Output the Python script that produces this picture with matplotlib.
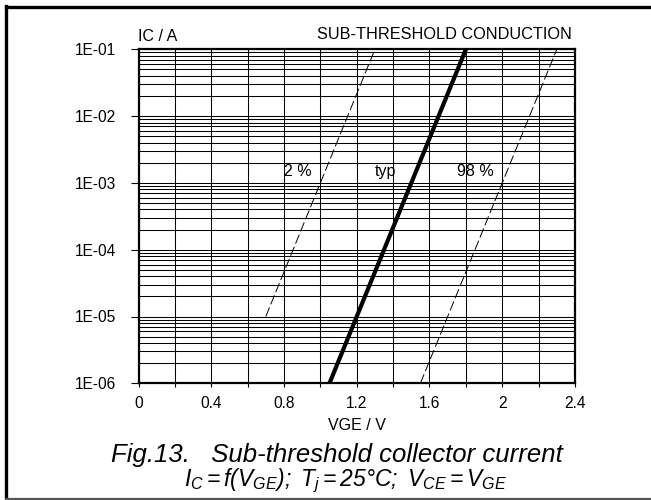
import matplotlib
matplotlib.use("Agg")
import matplotlib.pyplot as plt
from matplotlib.lines import Line2D
import numpy as np

plt.rcParams['font.family'] = ['Liberation Sans', 'DejaVu Sans']
plt.rcParams['mathtext.fontset'] = 'custom'
plt.rcParams['mathtext.rm'] = 'Liberation Sans:italic'
plt.rcParams['mathtext.it'] = 'Liberation Sans:italic'
plt.rcParams['mathtext.bf'] = 'Liberation Sans:italic:bold'

# ---- data ----
ic_levels = [1e-6, 1e-5, 1e-4, 1e-3, 1e-2, 1e-1]
vge_typ = [1.05, 1.20, 1.35, 1.50, 1.65, 1.80]
vge_98 = [1.55, 1.70, 1.85, 2.00, 2.15, 2.30]
ic_levels_2 = [1e-5, 1e-4, 1e-3, 1e-2, 1e-1]
vge_2 = [0.70, 0.85, 1.00, 1.15, 1.30]

x_ticks = [0, 0.4, 0.8, 1.2, 1.6, 2.0, 2.4]
x_tick_labels = ['0', '0.4', '0.8', '1.2', '1.6', '2', '2.4']
y_ticks = [1e-6, 1e-5, 1e-4, 1e-3, 1e-2, 1e-1]
y_tick_labels = ['1E-06', '1E-05', '1E-04', '1E-03', '1E-02', '1E-01']

W, H = 651, 500
fig = plt.figure(figsize=(W / 100, H / 100), dpi=100)
L, R, T, B = 138.5, 575.0, 49.3, 383.3
ax = fig.add_axes([L / W, 1 - B / H, (R - L) / W, (B - T) / H])

ax.set_yscale('log')
ax.set_xlim(0, 2.4)
ax.set_ylim(1e-6, 1e-1)

# grid
ax.set_xticks(np.arange(0, 2.41, 0.2), minor=True)
ax.set_xticks(x_ticks)
ax.set_xticklabels(x_tick_labels)
ax.set_yticks(y_ticks)
ax.set_yticklabels(y_tick_labels)
ax.yaxis.set_minor_locator(matplotlib.ticker.LogLocator(base=10, subs=np.arange(2, 10)))
ax.yaxis.set_minor_formatter(matplotlib.ticker.NullFormatter())
ax.grid(True, which='both', color='black', linewidth=0.75)
ax.set_axisbelow(True)

ax.tick_params(axis='y', which='major', direction='out', length=5.5, width=0.8,
               pad=10.5, labelsize=11.2)
ax.tick_params(axis='y', which='minor', length=0)
ax.tick_params(axis='x', which='both', direction='out', length=3, width=0.8,
               pad=6, labelsize=11.2)
for s in ax.spines.values():
    s.set_linewidth(1.6)
    s.set_color('black')

# curves
ax.plot(vge_2, ic_levels_2, color='black', lw=0.7, dashes=(10, 3.5))
ax.plot(vge_typ, ic_levels, color='black', lw=3.0, solid_capstyle='butt')
ax.plot(vge_98, ic_levels, color='black', lw=0.7, dashes=(10, 3.5))

ax.text(0.80, 1.5e-3, '2 %', fontsize=11.5, ha='left', va='center')
ax.text(1.30, 1.5e-3, 'typ', fontsize=11.5, ha='left', va='center')
ax.text(1.75, 1.5e-3, '98 %', fontsize=11.5, ha='left', va='center')

# labels
fig.text(L / W, 1 - 36.5 / H, 'IC / A', fontsize=11.5, ha='left', va='center')
fig.text(572 / W, 1 - 34.5 / H, 'SUB-THRESHOLD CONDUCTION', fontsize=11.7,
         ha='right', va='center')
fig.text((L + R) / 2 / W, 1 - 425 / H, 'VGE / V', fontsize=11.5, ha='center', va='center')

fig.text(337 / W, 1 - 455 / H, 'Fig.13.   Sub-threshold collector current',
         fontsize=18.5, style='italic', ha='center', va='center')
fig.text(346 / W, 1 - 481 / H,
         r'$I_C = f(V_{GE});\ T_j = 25{\degree}C;\ V_{CE} = V_{GE}$',
         fontsize=16.5, ha='center', va='center')

# outer frame
fig.add_artist(Line2D([5.5 / W, 5.5 / W], [0, 1 - 6 / H], color='black', lw=2.4,
                      transform=fig.transFigure, solid_capstyle='projecting'))
fig.add_artist(Line2D([5.5 / W, 1], [1 - 7 / H, 1 - 7 / H], color='black', lw=2.4,
                      transform=fig.transFigure, solid_capstyle='projecting'))
fig.add_artist(Line2D([5.5 / W, 1], [1 - 499 / H, 1 - 499 / H], color='#555555', lw=1.6,
                      transform=fig.transFigure))

fig.savefig('out.png', dpi=100)
